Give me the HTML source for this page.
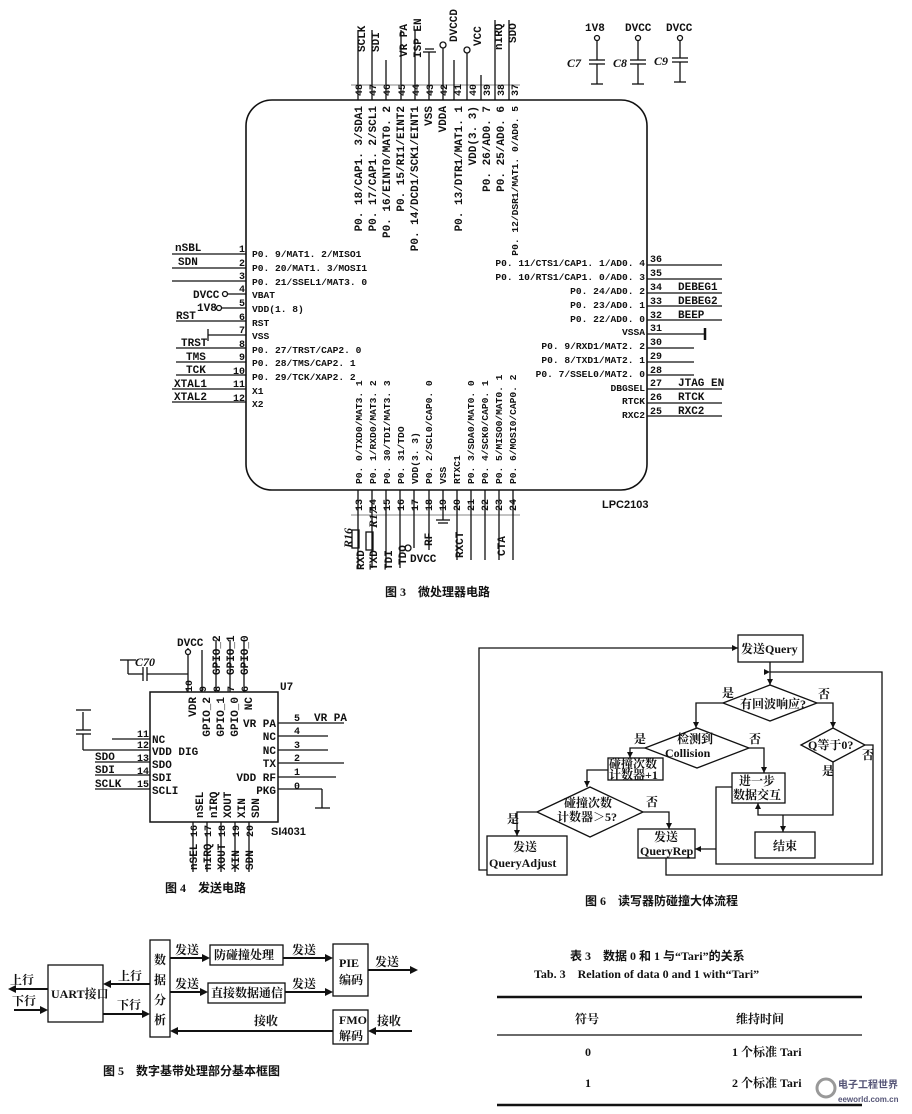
<!DOCTYPE html>
<html><head><meta charset="utf-8"><style>
html,body{margin:0;padding:0;background:#fff;}
svg{display:block;}
text{font-family:"Liberation Mono","Noto Sans CJK SC",monospace;font-weight:bold;fill:#111;}
.s{font-size:11px;}
.t{font-size:9.6px;}
.n{font-size:10px;}
.c{font-family:"Liberation Serif","Noto Serif CJK SC","Noto Sans CJK SC",serif;font-size:12px;}
.cap{font-family:"Liberation Serif","Noto Sans CJK SC",sans-serif;font-size:12px;font-weight:bold;}
</style></head><body>
<svg width="912" height="1114" viewBox="0 0 912 1114" xmlns="http://www.w3.org/2000/svg" stroke="#111" fill="none" stroke-width="1.3">
<!-- ===== Fig 3 chip ===== -->
<rect x="246" y="100" width="401" height="390" rx="26" ry="26" stroke-width="1.6"/>
<g>
<line x1="358" y1="30" x2="358" y2="100"/><line x1="372" y1="30" x2="372" y2="100"/><line x1="386" y1="60" x2="386" y2="100"/>
<line x1="401" y1="30" x2="401" y2="100"/><line x1="415" y1="30" x2="415" y2="100"/><line x1="429" y1="52" x2="429" y2="100"/>
<line x1="423" y1="52" x2="436" y2="52"/><line x1="425" y1="49" x2="434" y2="49"/>
<line x1="443" y1="45" x2="443" y2="100"/><circle cx="443" cy="45" r="3" fill="#fff"/>
<line x1="454" y1="60" x2="454" y2="100"/>
<line x1="467" y1="50" x2="467" y2="100"/><circle cx="467" cy="50" r="3" fill="#fff"/>
<line x1="481" y1="75" x2="481" y2="100"/>
<line x1="495" y1="20" x2="495" y2="100"/><line x1="509" y1="20" x2="509" y2="100"/>
<line x1="351" y1="85" x2="520" y2="85" stroke-width="0.6"/>
</g>
<g stroke="none">
<text class="n" transform="translate(362,96) rotate(-90)">48</text><text class="n" transform="translate(376,96) rotate(-90)">47</text>
<text class="n" transform="translate(390,96) rotate(-90)">46</text><text class="n" transform="translate(405,96) rotate(-90)">45</text>
<text class="n" transform="translate(419,96) rotate(-90)">44</text><text class="n" transform="translate(433,96) rotate(-90)">43</text>
<text class="n" transform="translate(447,96) rotate(-90)">42</text><text class="n" transform="translate(461,96) rotate(-90)">41</text>
<text class="n" transform="translate(476,96) rotate(-90)">40</text><text class="n" transform="translate(490,96) rotate(-90)">39</text>
<text class="n" transform="translate(504,96) rotate(-90)">38</text><text class="n" transform="translate(518,96) rotate(-90)">37</text>
<text class="s" transform="translate(365,52) rotate(-90)">SCLK</text><text class="s" transform="translate(379,52) rotate(-90)">SDI</text>
<text class="s" transform="translate(407,57) rotate(-90)">VR PA</text><text class="s" transform="translate(421,58) rotate(-90)">ISP EN</text>
<text class="s" transform="translate(457,42) rotate(-90)">DVCCD</text><text class="s" transform="translate(481,46) rotate(-90)">VCC</text>
<text class="s" transform="translate(502,50) rotate(-90)">nIRQ</text><text class="s" transform="translate(516,43) rotate(-90)">SDO</text>
<g text-anchor="end">
<text class="s" transform="translate(362,106) rotate(-90)">P0. 18/CAP1. 3/SDA1</text>
<text class="s" transform="translate(376,106) rotate(-90)">P0. 17/CAP1. 2/SCL1</text>
<text class="s" transform="translate(390,106) rotate(-90)">P0. 16/EINT0/MAT0. 2</text>
<text class="s" transform="translate(404,106) rotate(-90)">P0. 15/RI1/EINT2</text>
<text class="s" transform="translate(418,106) rotate(-90)">P0. 14/DCD1/SCK1/EINT1</text>
<text class="s" transform="translate(432,106) rotate(-90)">VSS</text>
<text class="s" transform="translate(446,106) rotate(-90)">VDDA</text>
<text class="s" transform="translate(462,106) rotate(-90)">P0. 13/DTR1/MAT1. 1</text>
<text class="s" transform="translate(476,106) rotate(-90)">VDD(3. 3)</text>
<text class="s" transform="translate(490,106) rotate(-90)">P0. 26/AD0. 7</text>
<text class="s" transform="translate(504,106) rotate(-90)">P0. 25/AD0. 6</text>
<text class="t" transform="translate(518,106) rotate(-90)">P0. 12/DSR1/MAT1. 0/AD0. 5</text>
</g>
</g>
<g>
<line x1="597" y1="38" x2="597" y2="60"/><circle cx="597" cy="38" r="2.5" fill="#fff"/><line x1="589" y1="60" x2="605" y2="60"/><line x1="589" y1="64" x2="605" y2="64"/><line x1="597" y1="64" x2="597" y2="84"/><line x1="591" y1="84" x2="603" y2="84"/>
<line x1="638" y1="38" x2="638" y2="60"/><circle cx="638" cy="38" r="2.5" fill="#fff"/><line x1="630" y1="60" x2="646" y2="60"/><line x1="630" y1="64" x2="646" y2="64"/><line x1="638" y1="64" x2="638" y2="84"/><line x1="632" y1="84" x2="644" y2="84"/>
<line x1="680" y1="38" x2="680" y2="58"/><circle cx="680" cy="38" r="2.5" fill="#fff"/><line x1="672" y1="58" x2="688" y2="58"/><line x1="672" y1="62" x2="688" y2="62"/><line x1="680" y1="62" x2="680" y2="82"/><line x1="674" y1="82" x2="686" y2="82"/>
</g>
<g stroke="none">
<text class="s" x="585" y="31">1V8</text><text class="s" x="625" y="31">DVCC</text><text class="s" x="666" y="31">DVCC</text>
<text class="c" x="567" y="67" font-style="italic">C7</text><text class="c" x="613" y="67" font-style="italic">C8</text><text class="c" x="654" y="65" font-style="italic">C9</text>
</g>
<!-- left pins -->
<g>
<line x1="172" y1="254" x2="246" y2="254"/><line x1="172" y1="268" x2="246" y2="268"/><line x1="172" y1="281" x2="246" y2="281"/>
<line x1="228" y1="294" x2="246" y2="294"/><circle cx="225" cy="294" r="2.5" fill="#fff"/>
<line x1="222" y1="308" x2="246" y2="308"/><circle cx="219" cy="308" r="2.5" fill="#fff"/>
<line x1="176" y1="321" x2="246" y2="321"/>
<line x1="208" y1="335" x2="246" y2="335"/><line x1="208" y1="329" x2="208" y2="341"/>
<line x1="176" y1="348" x2="246" y2="348"/><line x1="176" y1="362" x2="246" y2="362"/><line x1="176" y1="375" x2="246" y2="375"/>
<line x1="172" y1="389" x2="246" y2="389"/><line x1="172" y1="402" x2="246" y2="402"/>
</g>
<g stroke="none">
<g text-anchor="end"><text class="n" x="245" y="252">1</text><text class="n" x="245" y="266">2</text><text class="n" x="245" y="279">3</text><text class="n" x="245" y="292">4</text><text class="n" x="245" y="306">5</text><text class="n" x="245" y="320">6</text><text class="n" x="245" y="333">7</text><text class="n" x="245" y="347">8</text><text class="n" x="245" y="360">9</text><text class="n" x="245" y="374">10</text><text class="n" x="245" y="387">11</text><text class="n" x="245" y="401">12</text></g>
<text class="s" x="175" y="251">nSBL</text><text class="s" x="178" y="265">SDN</text>
<text class="s" x="193" y="298">DVCC</text><text class="s" x="197" y="311">1V8</text><text class="s" x="176" y="319">RST</text>
<text class="s" x="181" y="346">TRST</text><text class="s" x="186" y="360">TMS</text><text class="s" x="186" y="373">TCK</text>
<text class="s" x="174" y="387">XTAL1</text><text class="s" x="174" y="400">XTAL2</text>
<text class="t" x="252" y="257">P0. 9/MAT1. 2/MISO1</text><text class="t" x="252" y="271">P0. 20/MAT1. 3/MOSI1</text>
<text class="t" x="252" y="285">P0. 21/SSEL1/MAT3. 0</text><text class="t" x="252" y="298">VBAT</text>
<text class="t" x="252" y="312">VDD(1. 8)</text><text class="t" x="252" y="326">RST</text><text class="t" x="252" y="339">VSS</text>
<text class="t" x="252" y="353">P0. 27/TRST/CAP2. 0</text><text class="t" x="252" y="366">P0. 28/TMS/CAP2. 1</text>
<text class="t" x="252" y="380">P0. 29/TCK/XAP2. 2</text><text class="t" x="252" y="394">X1</text><text class="t" x="252" y="407">X2</text>
</g>
<!-- right pins -->
<g>
<line x1="647" y1="265" x2="722" y2="265"/><line x1="647" y1="279" x2="722" y2="279"/><line x1="647" y1="293" x2="722" y2="293"/>
<line x1="647" y1="306" x2="722" y2="306"/><line x1="647" y1="320" x2="722" y2="320"/><line x1="647" y1="334" x2="705" y2="334"/>
<line x1="705" y1="328" x2="705" y2="340" stroke-width="2.5"/>
<line x1="647" y1="348" x2="694" y2="348"/><line x1="647" y1="362" x2="694" y2="362"/><line x1="647" y1="375" x2="694" y2="375"/>
<line x1="647" y1="389" x2="722" y2="389"/><line x1="647" y1="403" x2="722" y2="403"/><line x1="647" y1="416" x2="722" y2="416"/>
</g>
<g stroke="none">
<text class="n" x="650" y="262">36</text><text class="n" x="650" y="276">35</text><text class="n" x="650" y="290">34</text><text class="n" x="650" y="304">33</text><text class="n" x="650" y="318">32</text><text class="n" x="650" y="331">31</text><text class="n" x="650" y="345">30</text><text class="n" x="650" y="359">29</text><text class="n" x="650" y="373">28</text><text class="n" x="650" y="386">27</text><text class="n" x="650" y="400">26</text><text class="n" x="650" y="414">25</text>
<text class="s" x="678" y="290">DEBEG1</text><text class="s" x="678" y="304">DEBEG2</text><text class="s" x="678" y="318">BEEP</text>
<text class="s" x="678" y="386">JTAG EN</text><text class="s" x="678" y="400">RTCK</text><text class="s" x="678" y="414">RXC2</text>
<g text-anchor="end">
<text class="t" x="645" y="266">P0. 11/CTS1/CAP1. 1/AD0. 4</text><text class="t" x="645" y="280">P0. 10/RTS1/CAP1. 0/AD0. 3</text>
<text class="t" x="645" y="294">P0. 24/AD0. 2</text><text class="t" x="645" y="308">P0. 23/AD0. 1</text><text class="t" x="645" y="322">P0. 22/AD0. 0</text>
<text class="t" x="645" y="335">VSSA</text><text class="t" x="645" y="349">P0. 9/RXD1/MAT2. 2</text><text class="t" x="645" y="363">P0. 8/TXD1/MAT2. 1</text>
<text class="t" x="645" y="377">P0. 7/SSEL0/MAT2. 0</text><text class="t" x="645" y="391">DBGSEL</text><text class="t" x="645" y="404">RTCK</text><text class="t" x="645" y="418">RXC2</text>
</g>
<text x="602" y="508" style="font-family:'Liberation Sans',sans-serif;font-size:11px;font-weight:bold">LPC2103</text>
</g>
<!-- bottom pins -->
<g>
<line x1="358" y1="490" x2="358" y2="568"/><line x1="372" y1="490" x2="372" y2="568"/><line x1="386" y1="490" x2="386" y2="568"/>
<line x1="400" y1="490" x2="400" y2="568"/><line x1="414" y1="490" x2="414" y2="548"/><line x1="429" y1="490" x2="429" y2="550"/>
<line x1="443" y1="490" x2="443" y2="520"/><line x1="436" y1="520" x2="450" y2="520"/><line x1="438" y1="523" x2="448" y2="523"/>
<line x1="457" y1="490" x2="457" y2="560"/><line x1="471" y1="490" x2="471" y2="560"/><line x1="485" y1="490" x2="485" y2="560"/>
<line x1="499" y1="490" x2="499" y2="560"/><line x1="513" y1="490" x2="513" y2="560"/>
<line x1="351" y1="515" x2="520" y2="515" stroke-width="0.6"/>
<rect x="352" y="530" width="7" height="18"/><rect x="366" y="532" width="7" height="18"/>
<circle cx="408" cy="548" r="3" fill="#fff"/>
</g>
<g stroke="none">
<text class="n" transform="translate(362,511) rotate(-90)">13</text><text class="n" transform="translate(376,511) rotate(-90)">14</text>
<text class="n" transform="translate(390,511) rotate(-90)">15</text><text class="n" transform="translate(404,511) rotate(-90)">16</text>
<text class="n" transform="translate(418,511) rotate(-90)">17</text><text class="n" transform="translate(432,511) rotate(-90)">18</text>
<text class="n" transform="translate(446,511) rotate(-90)">19</text><text class="n" transform="translate(460,511) rotate(-90)">20</text>
<text class="n" transform="translate(474,511) rotate(-90)">21</text><text class="n" transform="translate(488,511) rotate(-90)">22</text>
<text class="n" transform="translate(502,511) rotate(-90)">23</text><text class="n" transform="translate(516,511) rotate(-90)">24</text>
<text class="s" transform="translate(364,570) rotate(-90)">RXD</text><text class="s" transform="translate(377,570) rotate(-90)">TXD</text>
<text class="s" transform="translate(392,570) rotate(-90)">TDI</text><text class="s" transform="translate(406,565) rotate(-90)">TDO</text>
<text class="s" x="410" y="562">DVCC</text><text class="s" transform="translate(432,546) rotate(-90)">RF</text>
<text class="s" transform="translate(463,558) rotate(-90)">RXCT</text><text class="s" transform="translate(505,556) rotate(-90)">CTA</text>
<text class="c" transform="translate(352,548) rotate(-90)" font-style="italic">R16</text><text class="c" transform="translate(377,528) rotate(-90)" font-style="italic">R17</text>
<text class="t" transform="translate(362,484) rotate(-90)">P0. 0/TXD0/MAT3. 1</text>
<text class="t" transform="translate(376,484) rotate(-90)">P0. 1/RXD0/MAT3. 2</text>
<text class="t" transform="translate(390,484) rotate(-90)">P0. 30/TDI/MAT3. 3</text>
<text class="t" transform="translate(404,484) rotate(-90)">P0. 31/TDO</text>
<text class="t" transform="translate(418,484) rotate(-90)">VDD(3. 3)</text>
<text class="t" transform="translate(432,484) rotate(-90)">P0. 2/SCL0/CAP0. 0</text>
<text class="t" transform="translate(446,484) rotate(-90)">VSS</text>
<text class="t" transform="translate(460,484) rotate(-90)">RTXC1</text>
<text class="t" transform="translate(474,484) rotate(-90)">P0. 3/SDA0/MAT0. 0</text>
<text class="t" transform="translate(488,484) rotate(-90)">P0. 4/SCK0/CAP0. 1</text>
<text class="t" transform="translate(502,484) rotate(-90)">P0. 5/MISO0/MAT0. 1</text>
<text class="t" transform="translate(516,484) rotate(-90)">P0. 6/MOSI0/CAP0. 2</text>
<text class="cap" x="385" y="596">图 3　微处理器电路</text>
</g>

<!-- ===== Fig 4 ===== -->
<rect x="150" y="692" width="128" height="130" stroke-width="1.5"/>
<g>
<line x1="188" y1="648" x2="188" y2="692"/><circle cx="188" cy="652" r="2.5" fill="#fff"/>
<line x1="202" y1="650" x2="202" y2="692"/><line x1="216" y1="640" x2="216" y2="692"/><line x1="230" y1="640" x2="230" y2="692"/><line x1="244" y1="640" x2="244" y2="692"/>
<line x1="128" y1="660" x2="128" y2="674"/><line x1="128" y1="674" x2="143" y2="674"/><line x1="143" y1="667" x2="143" y2="681"/><line x1="147" y1="667" x2="147" y2="681"/><line x1="147" y1="674" x2="188" y2="674"/>
<line x1="120" y1="660" x2="136" y2="660"/>
<line x1="83" y1="712" x2="83" y2="730"/><line x1="76" y1="730" x2="91" y2="730"/><line x1="76" y1="734" x2="91" y2="734"/><line x1="83" y1="734" x2="83" y2="750"/><line x1="83" y1="750" x2="150" y2="750"/><line x1="76" y1="710" x2="91" y2="710"/>
<line x1="112" y1="739" x2="150" y2="739"/><line x1="95" y1="762" x2="150" y2="762"/><line x1="95" y1="775" x2="150" y2="775"/><line x1="95" y1="789" x2="150" y2="789"/>
<line x1="278" y1="723" x2="344" y2="723"/><line x1="278" y1="736" x2="328" y2="736"/><line x1="278" y1="750" x2="328" y2="750"/>
<line x1="278" y1="763" x2="344" y2="763"/><line x1="278" y1="777" x2="336" y2="777"/><line x1="278" y1="789" x2="322" y2="789"/><line x1="322" y1="789" x2="322" y2="808"/><line x1="315" y1="808" x2="330" y2="808"/>
<line x1="193" y1="822" x2="193" y2="872"/><line x1="207" y1="822" x2="207" y2="872"/><line x1="221" y1="822" x2="221" y2="872"/><line x1="235" y1="822" x2="235" y2="872"/><line x1="249" y1="822" x2="249" y2="872"/>
</g>
<g stroke="none">
<text class="s" x="177" y="646">DVCC</text><text class="c" x="135" y="666" font-style="italic">C70</text><text class="s" x="280" y="690">U7</text>
<text class="n" transform="translate(192,692) rotate(-90)">10</text><text class="n" transform="translate(206,692) rotate(-90)">9</text>
<text class="n" transform="translate(220,692) rotate(-90)">8</text><text class="n" transform="translate(234,692) rotate(-90)">7</text><text class="n" transform="translate(248,692) rotate(-90)">6</text>
<text class="s" transform="translate(220,675) rotate(-90)">GPIO_2</text><text class="s" transform="translate(234,675) rotate(-90)">GPIO_1</text><text class="s" transform="translate(248,675) rotate(-90)">GPIO_0</text>
<g text-anchor="end">
<text class="s" transform="translate(196,697) rotate(-90)">VDR</text><text class="s" transform="translate(210,697) rotate(-90)">GPIO_2</text>
<text class="s" transform="translate(224,697) rotate(-90)">GPIO_1</text><text class="s" transform="translate(238,697) rotate(-90)">GPIO_0</text><text class="s" transform="translate(252,697) rotate(-90)">NC</text>
</g>
<g text-anchor="end"><text class="n" x="149" y="737">11</text><text class="n" x="149" y="748">12</text><text class="n" x="149" y="761">13</text><text class="n" x="149" y="774">14</text><text class="n" x="149" y="787">15</text></g>
<text class="s" x="152" y="743">NC</text><text class="s" x="152" y="755">VDD DIG</text><text class="s" x="152" y="768">SDO</text><text class="s" x="152" y="781">SDI</text><text class="s" x="152" y="794">SCLI</text>
<text class="s" x="95" y="760">SDO</text><text class="s" x="95" y="773">SDI</text><text class="s" x="95" y="787">SCLK</text>
<g text-anchor="end"><text class="s" x="276" y="727">VR PA</text><text class="s" x="276" y="740">NC</text><text class="s" x="276" y="754">NC</text><text class="s" x="276" y="767">TX</text><text class="s" x="276" y="781">VDD RF</text><text class="s" x="276" y="794">PKG</text></g>
<text class="n" x="294" y="721">5</text><text class="n" x="294" y="734">4</text><text class="n" x="294" y="748">3</text><text class="n" x="294" y="761">2</text><text class="n" x="294" y="775">1</text><text class="n" x="294" y="789">0</text>
<text class="s" x="314" y="721">VR PA</text>
<text class="s" transform="translate(203,818) rotate(-90)">nSEL</text><text class="s" transform="translate(217,818) rotate(-90)">nIRQ</text>
<text class="s" transform="translate(231,818) rotate(-90)">XOUT</text><text class="s" transform="translate(245,818) rotate(-90)">XIN</text><text class="s" transform="translate(259,818) rotate(-90)">SDN</text>
<text class="n" transform="translate(197,837) rotate(-90)">16</text><text class="n" transform="translate(211,837) rotate(-90)">17</text><text class="n" transform="translate(225,837) rotate(-90)">18</text><text class="n" transform="translate(239,837) rotate(-90)">19</text><text class="n" transform="translate(253,837) rotate(-90)">20</text>
<text class="s" transform="translate(197,870) rotate(-90)">nSEL</text><text class="s" transform="translate(211,870) rotate(-90)">nIRQ</text>
<text class="s" transform="translate(225,870) rotate(-90)">XOUT</text><text class="s" transform="translate(239,870) rotate(-90)">XIN</text><text class="s" transform="translate(253,870) rotate(-90)">SDN</text>
<text x="271" y="835" style="font-family:'Liberation Sans',sans-serif;font-size:11px;font-weight:bold">SI4031</text>
<text class="cap" x="165" y="892">图 4　发送电路</text>
</g>

<!-- ===== Fig 6 flowchart ===== -->
<g>
<rect x="738" y="635" width="65" height="27"/>
<polygon points="723,703 770,685 817,703 770,721"/>
<polygon points="645,748 697,728 749,748 697,768"/>
<polygon points="801,745 833,728 865,745 833,762"/>
<rect x="608" y="758" width="55" height="22"/>
<polygon points="537,812 590,787 643,812 590,837"/>
<rect x="732" y="773" width="53" height="30"/>
<rect x="755" y="832" width="60" height="26"/>
<rect x="638" y="829" width="57" height="29"/>
<rect x="487" y="836" width="80" height="39"/>
<polyline points="770,662 770,685"/>
<polyline points="770,672 882,672 882,875 666,875 666,858"/>
<polyline points="723,703 696,703 696,728"/>
<polyline points="817,703 833,703 833,728"/>
<polyline points="645,748 630,748 630,758"/>
<polyline points="749,748 764,748 764,773"/>
<polyline points="608,770 587,770 587,787"/>
<polyline points="537,812 517,812 517,836"/>
<polyline points="643,812 669,812 669,829"/>
<polyline points="487,870 479,870 479,648 738,648"/>
<polyline points="833,762 833,815 758,815 758,803"/>
<polyline points="783,815 783,832"/>
<polyline points="865,745 873,745 873,864 716,864 716,787 732,787"/>
<polyline points="716,849 695,849"/>
</g>
<g fill="#111" stroke="none">
<polygon points="738,648 732,645 732,651"/><polygon points="770,685 767,679 773,679"/><polygon points="770,672 764,669 764,675"/>
<polygon points="696,728 693,722 699,722"/><polygon points="833,728 830,722 836,722"/><polygon points="630,758 627,752 633,752"/>
<polygon points="764,773 761,767 767,767"/><polygon points="587,787 584,781 590,781"/><polygon points="517,836 514,830 520,830"/>
<polygon points="669,829 666,823 672,823"/><polygon points="758,803 755,809 761,809"/><polygon points="783,832 780,826 786,826"/>
<polygon points="695,849 701,846 701,852"/>
</g>
<g stroke="none">
<text class="c" x="741" y="653">发送Query</text>
<text class="c" x="740" y="708">有回波响应?</text><text class="c" x="722" y="697">是</text><text class="c" x="818" y="698">否</text>
<text class="c" x="677" y="743">检测到</text><text class="c" x="665" y="757">Collision</text><text class="c" x="634" y="743">是</text><text class="c" x="749" y="743">否</text>
<text class="c" x="808" y="749">Q等于0?</text><text class="c" x="862" y="759">否</text><text class="c" x="822" y="775">是</text>
<text class="c" x="609" y="768">碰撞次数</text><text class="c" x="609" y="779">计数器+1</text>
<text class="c" x="564" y="807">碰撞次数</text><text class="c" x="557" y="821">计数器＞5?</text><text class="c" x="507" y="823">是</text><text class="c" x="646" y="806">否</text>
<text class="c" x="739" y="785">进一步</text><text class="c" x="733" y="799">数据交互</text>
<text class="c" x="773" y="850">结束</text>
<text class="c" x="654" y="841">发送</text><text class="c" x="640" y="855">QueryRep</text>
<text class="c" x="513" y="851">发送</text><text class="c" x="489" y="867">QueryAdjust</text>
<text class="cap" x="585" y="905">图 6　读写器防碰撞大体流程</text>
</g>

<!-- ===== Fig 5 ===== -->
<g>
<rect x="48" y="965" width="55" height="57"/>
<rect x="150" y="940" width="20" height="97"/>
<rect x="210" y="945" width="73" height="20"/>
<rect x="208" y="983" width="77" height="20"/>
<rect x="333" y="944" width="35" height="52"/>
<rect x="333" y="1010" width="35" height="34"/>
<g stroke-width="2">
<line x1="48" y1="989" x2="14" y2="989"/><line x1="14" y1="1010" x2="44" y2="1010"/>
<line x1="150" y1="984" x2="108" y2="984"/><line x1="103" y1="1014" x2="145" y2="1014"/>
<line x1="170" y1="958" x2="205" y2="958"/><line x1="283" y1="958" x2="328" y2="958"/>
<line x1="170" y1="992" x2="203" y2="992"/><line x1="285" y1="992" x2="328" y2="992"/>
<line x1="368" y1="970" x2="410" y2="970"/>
<line x1="412" y1="1031" x2="373" y2="1031"/><line x1="333" y1="1031" x2="176" y2="1031"/>
</g>
</g>
<g fill="#111" stroke="none">
<polygon points="8,989 16,985 16,993"/><polygon points="48,1010 40,1006 40,1014"/>
<polygon points="103,984 111,980 111,988"/><polygon points="150,1014 142,1010 142,1018"/>
<polygon points="210,958 202,954 202,962"/><polygon points="333,958 325,954 325,962"/>
<polygon points="208,992 200,988 200,996"/><polygon points="333,992 325,988 325,996"/>
<polygon points="418,970 410,966 410,974"/><polygon points="368,1031 376,1027 376,1035"/><polygon points="170,1031 178,1027 178,1035"/>
</g>
<g stroke="none">
<text class="c" x="10" y="984">上行</text><text class="c" x="12" y="1005">下行</text><text class="c" x="51" y="998" font-size="11">UART接口</text>
<text class="c" x="118" y="980">上行</text><text class="c" x="117" y="1009">下行</text>
<text class="c" x="154" y="964">数</text><text class="c" x="154" y="984">据</text><text class="c" x="154" y="1004">分</text><text class="c" x="154" y="1024">析</text>
<text class="c" x="175" y="954">发送</text><text class="c" x="175" y="988">发送</text>
<text class="c" x="214" y="959" font-size="11">防碰撞处理</text><text class="c" x="211" y="997" font-size="11">直接数据通信</text>
<text class="c" x="292" y="954">发送</text><text class="c" x="292" y="988">发送</text>
<text class="c" x="339" y="967">PIE</text><text class="c" x="339" y="984">编码</text>
<text class="c" x="375" y="966">发送</text>
<text class="c" x="339" y="1024">FMO</text><text class="c" x="339" y="1040">解码</text>
<text class="c" x="377" y="1025">接收</text><text class="c" x="254" y="1025">接收</text>
<text class="cap" x="103" y="1075">图 5　数字基带处理部分基本框图</text>
</g>

<!-- ===== Table 3 ===== -->
<g stroke="none">
<text class="cap" x="570" y="960">表 3　数据 0 和 1 与“Tari”的关系</text>
<text class="cap" x="534" y="978" style="font-family:'Liberation Serif',serif">Tab. 3　Relation of data 0 and 1 with“Tari”</text>
<text class="c" x="575" y="1023" font-weight="normal">符号</text><text class="c" x="736" y="1023" font-weight="normal">维持时间</text>
<text class="c" x="585" y="1056" font-weight="normal">0</text><text class="c" x="732" y="1056" font-weight="normal">1 个标准 Tari</text>
<text class="c" x="585" y="1087" font-weight="normal">1</text><text class="c" x="732" y="1087" font-weight="normal">2 个标准 Tari</text>
<text x="838" y="1088" style="font-family:'Noto Sans CJK SC',sans-serif;font-size:10px;fill:#557">电子工程世界</text>
<text x="838" y="1102" style="font-family:'Liberation Sans',sans-serif;font-size:8px;fill:#557">eeworld.com.cn</text>
</g>
<line x1="497" y1="997" x2="862" y2="997" stroke-width="2.5"/>
<line x1="497" y1="1035" x2="862" y2="1035" stroke-width="1.2"/>
<line x1="497" y1="1105" x2="862" y2="1105" stroke-width="2.5"/>
<circle cx="826" cy="1088" r="9" stroke="#999" stroke-width="3"/>
</svg>
</body></html>
